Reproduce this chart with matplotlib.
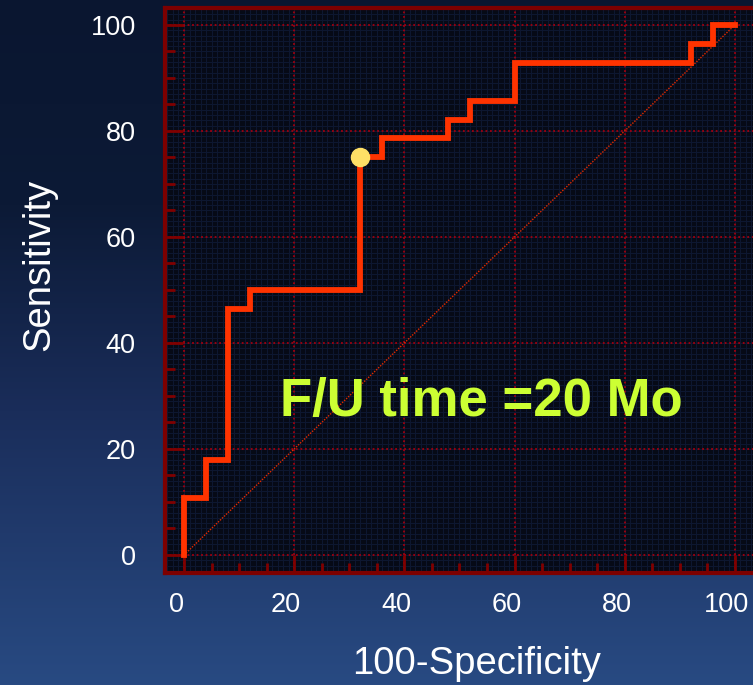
import matplotlib.pyplot as plt
import numpy as np
from matplotlib.colors import LinearSegmentedColormap
from matplotlib.ticker import MultipleLocator
from matplotlib.transforms import ScaledTranslation

# ROC curve corners (100-specificity, sensitivity)
fpr = [0, 4, 8, 12, 32, 36, 48, 52, 60, 92, 96, 100]
sens = [0, 10.7, 17.9, 46.4, 50, 75, 78.6, 82.1, 85.7, 92.9, 96.4, 100]
cutoff = (32, 75)
x_ticks = [0, 20, 40, 60, 80, 100]
y_ticks = [0, 20, 40, 60, 80, 100]

fig = plt.figure(figsize=(7.53, 6.85), dpi=100)
plt.rcParams['font.family'] = ['Liberation Sans', 'DejaVu Sans']

# blue gradient backdrop
bg = fig.add_axes([0, 0, 1, 1], zorder=0)
cmap = LinearSegmentedColormap.from_list(
    "bg", [(0, "#0a1630"), (0.3, "#0c1a36"), (0.6, "#1a2d5a"), (1, "#284a82")])
grad = np.linspace(0, 1, 256).reshape(-1, 1)
bg.imshow(grad, cmap=cmap, aspect="auto", extent=[0, 1, 0, 1], origin="upper")
bg.axis("off")

ax = fig.add_axes([165 / 753, 112 / 685, 593 / 753, 565 / 685], zorder=1)
ax.set_facecolor("#060a16")
ax.set_xlim(-3.45, 104.2)
ax.set_ylim(-3.4, 103.2)

# fine mesh texture
for v in np.arange(-3, 105, 1):
    ax.axvline(v, color="#0e1831", lw=0.7, zorder=0)
    ax.axhline(v, color="#0e1831", lw=0.7, zorder=0)

for v in x_ticks:
    ax.axvline(v, color="#a0000f", lw=1.3, ls=(0, (1, 1.5)), zorder=1)
for v in y_ticks:
    ax.axhline(v, color="#a0000f", lw=1.3, ls=(0, (1, 1.5)), zorder=1)

# chance line
ax.plot([0, 100], [0, 100], color="#e02a00", lw=1.0, ls=(0, (1, 1)), zorder=2)

ax.step(fpr, sens, where="pre", color="#ff3300", lw=4.2, zorder=3,
        solid_joinstyle="miter")
ax.plot(*cutoff, "o", color="#ffe066", ms=13, zorder=4)

ax.text(54, 28.9, "F/U time =20 Mo", color="#ccff33", fontsize=38,
        fontweight="bold", ha="center", va="center", zorder=5)

ax.set_xticks(x_ticks)
ax.set_yticks(y_ticks)
ax.xaxis.set_minor_locator(MultipleLocator(5))
ax.yaxis.set_minor_locator(MultipleLocator(5))
ax.tick_params(which="major", direction="in", length=13, width=2,
               color="#800000", labelcolor="white", labelsize=19.5)
ax.tick_params(which="minor", direction="in", length=7, width=2,
               color="#800000")
ax.tick_params(axis="y", pad=21)
ax.tick_params(axis="x", pad=14)

# x tick labels sit a little left of their ticks
shift = ScaledTranslation(-8 / 100, 0, fig.dpi_scale_trans)
for lab in ax.get_xticklabels():
    lab.set_transform(lab.get_transform() + shift)

for s in ax.spines.values():
    s.set_color("#7d0000")
    s.set_linewidth(3)

ax.set_xlabel("100-Specificity", color="white", fontsize=27.5)
ax.set_ylabel("Sensitivity", color="white", fontsize=27.5)
ax.xaxis.set_label_coords(0.525, -0.13)
ax.yaxis.set_label_coords(-0.182, 0.545)

fig.savefig("out.png", dpi=100)
